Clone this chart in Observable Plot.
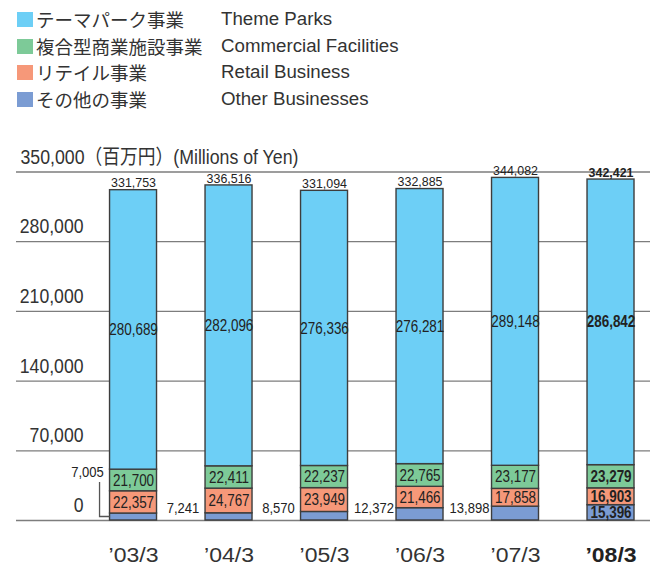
<!DOCTYPE html>
<html>
<head>
<meta charset="utf-8">
<script src="https://cdn.jsdelivr.net/npm/d3@7"></script>
<script src="https://cdn.jsdelivr.net/npm/@observablehq/plot@0.6"></script>
<style>
  body { margin: 0; background: #fff; width: 650px; }
  #legend { position: relative; height: 130px; color: #333; }
  .row { position: absolute; height: 20px; line-height: 20px; white-space: nowrap; }
  .sw { position: absolute; left: 17px; width: 16px; height: 15px; top: 3px; }
  .jp { position: absolute; left: 36px; font-family: "Noto Sans CJK JP", sans-serif; font-size: 18.5px; }
  .en { position: absolute; left: 221px; font-family: "Liberation Sans", Arial, sans-serif; font-size: 18.7px; }
</style>
</head>
<body>
<div id="legend"></div>
<div id="chart"></div>
<script>
const years = ["’03/3", "’04/3", "’05/3", "’06/3", "’07/3", "’08/3"];
const themeParks = [280689, 282096, 276336, 276281, 289148, 286842];
const commercial = [21700, 22411, 22237, 22765, 23177, 23279];
const retail = [22357, 24767, 23949, 21466, 17858, 16903];
const other = [7005, 7241, 8570, 12372, 13898, 15396];
const totals = [331753, 336516, 331094, 332885, 344082, 342421];
const yTicks = [0, 70000, 140000, 210000, 280000, 350000];
const seriesKeys = ["theme", "commercial", "retail", "other"];
const seriesJP = ["テーマパーク事業", "複合型商業施設事業", "リテイル事業", "その他の事業"];
const seriesEN = ["Theme Parks", "Commercial Facilities", "Retail Business", "Other Businesses"];
const seriesColors = ["#6dcff6", "#7dca98", "#f69879", "#7b9cd3"];
const unitLabel = "（百万円）(Millions of Yen)";

// legend
const legend = document.getElementById("legend");
seriesKeys.forEach((k, i) => {
  const row = document.createElement("div");
  row.className = "row";
  row.style.top = (9 + i * 26.7) + "px";
  row.style.left = "0px";
  row.innerHTML = `<span class="sw" style="background:${seriesColors[i]}"></span><span class="jp">${seriesJP[i]}</span><span class="en">${seriesEN[i]}</span>`;
  legend.appendChild(row);
});

// long table, stacked bottom-up: other, retail, commercial, theme
const valuesBy = {theme: themeParks, commercial, retail, other};
const stackOrder = ["other", "retail", "commercial", "theme"];
const rows = [];
years.forEach((y, i) => {
  stackOrder.forEach(s => rows.push({year: y, idx: i, series: s, value: valuesBy[s][i]}));
});
const fmt = d3.format(",");
const lastIdx = years.length - 1;
const sans = "'Liberation Sans', Arial, sans-serif";

const bracket = (index, scales, values, dimensions, context) => {
  const xs = scales.x(years[0]);
  const y0 = scales.y(0);
  const yh = scales.y(other[0] / 2);
  const xl = xs - 10;
  return d3.create("svg:path")
    .attr("d", `M${xl},${y0 - 38}V${yh}H${xs}`)
    .attr("fill", "none")
    .attr("stroke", "#555")
    .attr("stroke-width", 1.3)
    .node();
};

const chart = Plot.plot({
  width: 650,
  height: 444,
  marginTop: 41.5,
  marginBottom: 54,
  marginLeft: 16,
  marginRight: 0,
  style: {fontFamily: sans, color: "#333", background: "#fff"},
  x: {domain: years, paddingInner: 0.508, paddingOuter: 0.5735, align: 0.854, round: false, axis: null},
  y: {domain: [0, 350000], axis: null},
  color: {domain: seriesKeys, range: seriesColors},
  marks: [
    Plot.ruleY(yTicks, {stroke: "#7d7d7d", strokeWidth: 1.3}),
    Plot.barY(rows, {x: "year", y: "value", fill: "series", stroke: "#3d3d3d", strokeWidth: 1.4, order: null}),
    // y tick labels
    Plot.text(yTicks.filter(t => t < 350000), {ariaLabel: () => "yticks", y: d => d, text: d => fmt(d), frameAnchor: "left", textAnchor: "end", dx: 67, dy: -15, fontSize: 20.5, fill: "#333"}),
    Plot.text([350000], {ariaLabel: () => "yunit", y: d => d, text: d => fmt(d) + unitLabel, frameAnchor: "left", textAnchor: "start", dx: 4, dy: -15, fontSize: 20.5, fill: "#333", fontFamily: "'Liberation Sans', 'Noto Sans CJK JP', sans-serif"}),
    // segment labels (normal years)
    Plot.text(rows.filter(d => d.idx < lastIdx), Plot.stackY({ariaLabel: () => "seg", x: "year", y: "value", z: "series", text: d => d.series === "other" ? "" : fmt(d.value), fontSize: 16, fill: "#222"})),
    // segment labels (latest year, bold)
    Plot.text(rows.filter(d => d.idx === lastIdx), Plot.stackY({ariaLabel: () => "seg", x: "year", y: "value", z: "series", text: d => fmt(d.value), fontSize: 16, fontWeight: "bold", fill: "#222"})),
    // other-business labels beside bars
    Plot.text(years.slice(1, lastIdx), {ariaLabel: () => "seg", x: d => d, y: 0, text: (d, i) => fmt(other[i + 1]), dx: -46, dy: -12, fontSize: 15.5, fill: "#222"}),
    Plot.text(years.slice(0, 1), {ariaLabel: () => "seg", x: d => d, y: 0, text: () => fmt(other[0]), dx: -46, dy: -48, fontSize: 15.5, fill: "#222"}),
    bracket,
    // totals
    Plot.text(years.slice(0, lastIdx), {ariaLabel: () => "tot", x: d => d, y: (d, i) => totals[i], text: (d, i) => fmt(totals[i]), dy: -7, fontSize: 13.5, fill: "#222"}),
    Plot.text(years.slice(lastIdx), {ariaLabel: () => "tot", x: d => d, y: () => totals[lastIdx], text: () => fmt(totals[lastIdx]), dy: -7, fontSize: 13.5, fontWeight: "bold", fill: "#222"}),
    // x labels
    Plot.text(years.slice(0, lastIdx), {ariaLabel: () => "xlab", x: d => d, text: d => d, frameAnchor: "bottom", dy: 41, fontSize: 20, fill: "#333"}),
    Plot.text(years.slice(lastIdx), {ariaLabel: () => "xlab", x: d => d, text: d => d, frameAnchor: "bottom", dy: 41, fontSize: 20, fontWeight: "bold", fill: "#222"})
  ]
});
document.getElementById("chart").appendChild(chart);

// condense / stretch text widths to match the original typeface
function fit(label, ratio) {
  d3.select(chart).selectAll(`text[aria-label="${label}"], g[aria-label="${label}"] text`).each(function () {
    const w = this.getComputedTextLength();
    if (w > 0) {
      this.setAttribute("textLength", (w * ratio).toFixed(2));
      this.setAttribute("lengthAdjust", "spacingAndGlyphs");
    }
  });
}
fit("seg", 0.84);
fit("tot", 0.92);
fit("yticks", 0.86);
fit("yunit", 0.865);
fit("xlab", 1.15);
</script>
</body>
</html>
